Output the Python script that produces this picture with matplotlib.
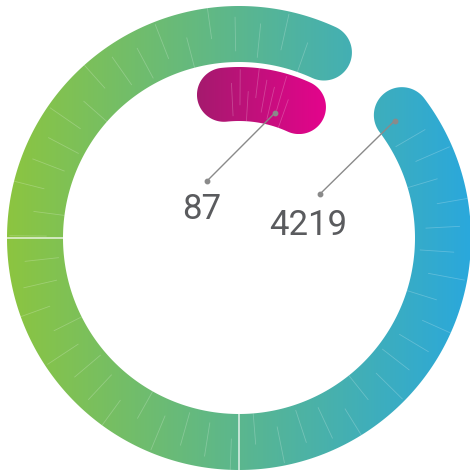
import numpy as np
import matplotlib
matplotlib.use("Agg")
import matplotlib.pyplot as plt
from matplotlib.path import Path
from matplotlib.patches import PathPatch
from matplotlib.colors import LinearSegmentedColormap

# series, outer ring first
labels = ['4219', '87']
values = [4219, 87]
scale_max = [4580, 1024]          # axis maximum of each ring
end_angle = 24.6                   # degrees clockwise from 12 o'clock
grad_left = ['#8cc540', '#a51a6e']
grad_right = ['#2aa8dc', '#e4048c']

ring_mid = [204, 144]
ring_half = [28, 27]

# label placement: anchor on bar (angle, radius), elbow dot, text position
anchor_pos = [(53.0, 195), (16.0, 130)]
dot_pos = [(81, 44), (-32, 57)]
text_pos = [(69, 3), (-37, 19)]


def bar_path(theta0, theta1, rm, hw, n=400):
    # annular bar from compass angle theta0 to theta1 (clockwise) with round caps
    ms = np.radians(90 - theta0)
    me = np.radians(90 - theta1)
    t = np.linspace(ms, me, n)
    outer = np.c_[(rm + hw) * np.cos(t), (rm + hw) * np.sin(t)]
    ce = rm * np.array([np.cos(me), np.sin(me)])
    p = np.linspace(me, me - np.pi, 60)
    cap_e = ce + hw * np.c_[np.cos(p), np.sin(p)]
    inner = np.c_[(rm - hw) * np.cos(t[::-1]), (rm - hw) * np.sin(t[::-1])]
    cs = rm * np.array([np.cos(ms), np.sin(ms)])
    p = np.linspace(ms + np.pi, ms, 60)
    cap_s = cs + hw * np.c_[np.cos(p), np.sin(p)]
    verts = np.vstack([outer, cap_e, inner, cap_s, outer[:1]])
    codes = [Path.MOVETO] + [Path.LINETO] * (len(verts) - 2) + [Path.CLOSEPOLY]
    return Path(verts, codes)


def polar(theta, r):
    a = np.radians(90 - theta)
    return r * np.cos(a), r * np.sin(a)


fig = plt.figure(figsize=(4.7, 4.75), dpi=100)
ax = fig.add_axes([0, 0, 1, 1])
ax.set_xlim(-239, 231)
ax.set_ylim(-237, 238)
ax.axis('off')

gradient = np.linspace(0, 1, 256).reshape(1, -1)
# which part of the ring width each seam covers (fractions of the band)
seam_parts = [(0.1, 0.7), (0.3, 0.95), (0.0, 0.55), (0.45, 1.0), (0.2, 0.8)]

for i in range(len(values)):
    sweep = values[i] / scale_max[i] * 360
    start = end_angle - sweep
    path = bar_path(start, end_angle, ring_mid[i], ring_half[i])
    patch = PathPatch(path, facecolor='none', edgecolor='none')
    ax.add_patch(patch)

    ext = path.get_extents()
    cmap = LinearSegmentedColormap.from_list('g%d' % i, [grad_left[i], grad_right[i]])
    im = ax.imshow(gradient, cmap=cmap, aspect='auto',
                   extent=[ext.x0, ext.x1, ext.y0, ext.y1], zorder=1,
                   interpolation='bilinear')
    im.set_clip_path(patch)

    # faint seams between the gradient slices
    rm, hw = ring_mid[i], ring_half[i]
    step = 6.8 if i == 0 else 3.2
    for k, th in enumerate(np.arange(start + step, end_angle - 2, step)):
        f0, f1 = seam_parts[k % len(seam_parts)]
        x0, y0 = polar(th, rm - hw + 2 * hw * f0)
        x1, y1 = polar(th, rm - hw + 2 * hw * f1)
        ln, = ax.plot([x0, x1], [y0, y1], color='white', lw=0.6,
                      alpha=0.22, zorder=2)
        ln.set_clip_path(patch)
    if i == 0:
        for th in (180, 270):
            x0, y0 = polar(th, rm - hw - 2)
            x1, y1 = polar(th, rm + hw)
            ln, = ax.plot([x0, x1], [y0, y1], color='white', lw=1.2,
                          alpha=0.75, zorder=2)
            ln.set_clip_path(patch)

    # leader line and value label
    ax_, ay_ = polar(*anchor_pos[i])
    dx, dy = dot_pos[i]
    ax.plot([ax_, dx], [ay_, dy], color='#8a8a8a', lw=1.0, zorder=3)
    ax.plot([ax_, dx], [ay_, dy], 'o', color='#8a8a8a', ms=3.2, zorder=3)
    tx, ty = text_pos[i]
    ax.text(tx, ty, labels[i], ha='center', va='baseline', fontsize=25,
            family='Roboto', fontweight='normal', color='#5a5b5e', zorder=4)

fig.savefig('out.png', dpi=100)
